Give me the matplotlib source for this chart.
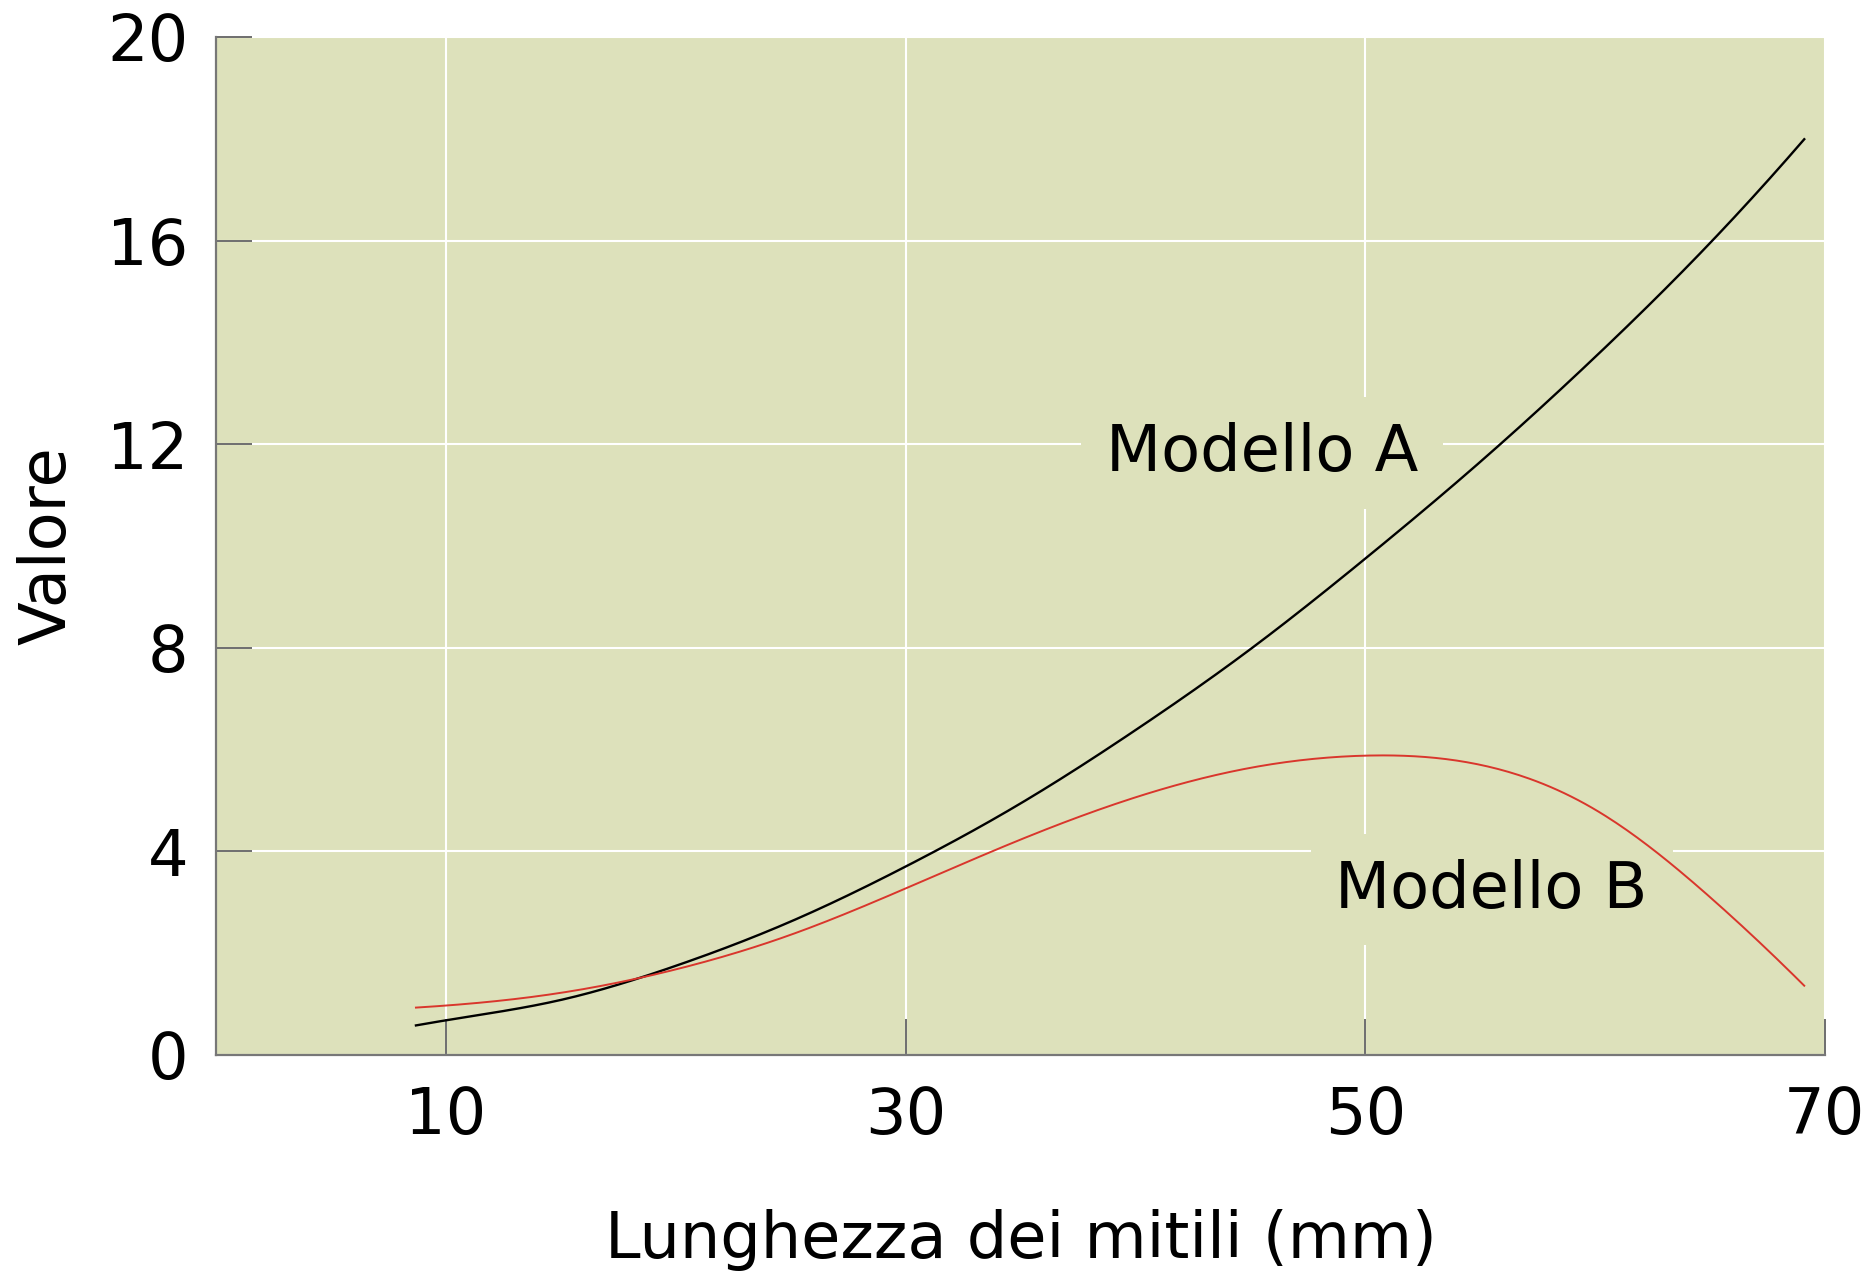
import numpy as np
import matplotlib.pyplot as plt

# === Data ===
lunghezza = [8.7, 10, 15, 20, 25, 30, 35, 40, 45, 50, 55, 60, 65, 69.1]
modello_a = [0.58, 0.68, 1.08, 1.75, 2.62, 3.70, 4.94, 6.38, 7.97, 9.75, 11.65, 13.71, 15.95, 17.99]
modello_b = [0.93, 0.97, 1.22, 1.68, 2.36, 3.27, 4.23, 5.06, 5.64, 5.88, 5.70, 4.82, 3.10, 1.36]

x_ticks = [10, 30, 50, 70]
y_ticks = [0, 4, 8, 12, 16, 20]

panel = '#dde1bb'
plt.rcParams['font.family'] = ['DejaVu Sans']


def spline(x, y, n=400):
    # cubic spline through the read points (parabolic run-out ends)
    x = np.asarray(x, float)
    y = np.asarray(y, float)
    k = len(x)
    h = np.diff(x)
    A = np.zeros((k, k))
    r = np.zeros(k)
    A[0, 0], A[0, 1] = 1, -1
    A[-1, -1], A[-1, -2] = 1, -1
    for i in range(1, k - 1):
        A[i, i - 1] = h[i - 1]
        A[i, i] = 2 * (h[i - 1] + h[i])
        A[i, i + 1] = h[i]
        r[i] = 6 * ((y[i + 1] - y[i]) / h[i] - (y[i] - y[i - 1]) / h[i - 1])
    M = np.linalg.solve(A, r)
    xs = np.linspace(x[0], x[-1], n)
    j = np.clip(np.searchsorted(x, xs) - 1, 0, k - 2)
    t0 = x[j + 1] - xs
    t1 = xs - x[j]
    hj = h[j]
    ys = (M[j] * t0**3 + M[j + 1] * t1**3) / (6 * hj) \
        + (y[j] / hj - M[j] * hj / 6) * t0 + (y[j + 1] / hj - M[j + 1] * hj / 6) * t1
    return xs, ys


fig = plt.figure(figsize=(18.7, 12.73), dpi=100)
ax = fig.add_axes([0.1155, 0.1713, 0.8604, 0.7997])
ax.set_facecolor(panel)

xa, ya = spline(lunghezza, modello_a)
xb, yb = spline(lunghezza, modello_b)
ax.plot(xa, ya, color='black', lw=1.7, zorder=3)
ax.plot(xb, yb, color='#d9362c', lw=1.4, zorder=3)

ax.set_xlim(0, 70)
ax.set_ylim(0, 20)
ax.set_xticks(x_ticks)
ax.set_yticks(y_ticks)
ax.grid(True, color='white', lw=1.5, zorder=1)
ax.set_axisbelow(True)

for s in ['top', 'right']:
    ax.spines[s].set_visible(False)
for s in ['left', 'bottom']:
    ax.spines[s].set_color('#777777')
    ax.spines[s].set_linewidth(1.6)

ax.tick_params(axis='both', direction='in', length=26, width=1.2, color='#555555',
               labelsize=46, labelcolor='black')
ax.tick_params(axis='y', pad=20)
ax.tick_params(axis='x', pad=22)

ax.set_xlabel('Lunghezza dei mitili (mm)', fontsize=46)
ax.set_ylabel('Valore', fontsize=46)
ax.xaxis.set_label_coords(0.5, -0.151)
ax.yaxis.set_label_coords(-0.0855, 0.5)

# labels with a panel-coloured box that hides the grid, but sit under the curves
box = dict(facecolor=panel, edgecolor='none', pad=18)
ax.text(45.5, 11.82, 'Modello A', fontsize=46, ha='center', va='center', bbox=box, zorder=2)
ax.text(55.5, 3.25, 'Modello B', fontsize=46, ha='center', va='center', bbox=box, zorder=2)

fig.savefig('out.png', dpi=100)
